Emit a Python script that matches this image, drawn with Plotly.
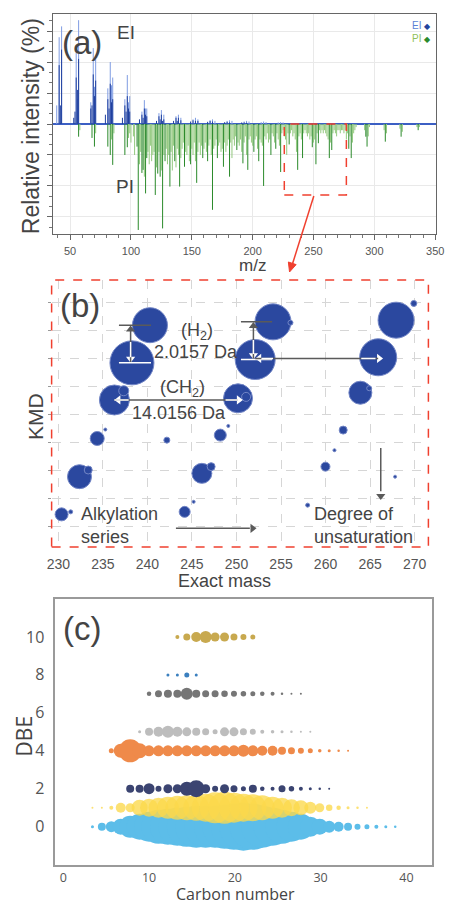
import plotly.graph_objects as go

W, H = 450, 905
FONT = "Liberation Sans, Arial, sans-serif"
FONT_C = "Open Sans, Lato, sans-serif"

def pxx(x):
    return x / W

def pxy(y):
    return 1 - y / H

# ---------------- (a) mass spectra ----------------
ei_light_mz = [39, 41, 43, 55, 56, 57, 67, 69, 70, 71, 81, 83, 84, 85, 95, 97, 98, 99,
               109, 111, 112, 113, 123, 125, 127, 137, 139, 141, 151, 153, 155, 165, 167,
               169, 179, 181, 183, 193, 195, 197, 207, 209, 211, 221, 223, 225]
ei_light_int = [0.6, 2.8, 3.15, 2.3, 0.8, 3.35, 0.7, 2.45, 1.2, 2.1, 1.15, 2.0, 1.25, 1.5,
                0.8, 1.58, 0.7, 0.9, 0.4, 0.77, 0.5, 0.5, 0.35, 0.45, 0.3, 0.25, 0.3, 0.2,
                0.15, 0.2, 0.15, 0.12, 0.15, 0.1, 0.1, 0.12, 0.1, 0.08, 0.1, 0.08, 0.06,
                0.08, 0.06, 0.05, 0.06, 0.05]
ei_dark_mz = [41, 42, 43, 53, 54, 55, 56, 57, 67, 68, 69, 70, 71, 79, 81, 82, 83, 84, 85,
              93, 95, 96, 97, 98, 99, 107, 109, 110, 111, 112, 113, 121, 123, 124, 125,
              126, 127, 135, 137, 138, 139, 141, 149, 151, 153, 155, 163, 165, 167, 177,
              179, 181, 191, 193, 195]
ei_dark_int = [1.9, 0.6, 2.4, 0.2, 0.4, 1.5, 1.1, 2.1, 0.5, 0.6, 1.6, 0.9, 1.4, 0.3, 0.8,
               0.5, 1.3, 0.7, 0.8, 0.2, 0.6, 0.4, 0.9, 0.5, 0.4, 0.15, 0.3, 0.2, 0.5, 0.3,
               0.25, 0.1, 0.25, 0.15, 0.3, 0.1, 0.15, 0.1, 0.2, 0.1, 0.2, 0.12, 0.08, 0.12,
               0.1, 0.1, 0.07, 0.1, 0.08, 0.06, 0.07, 0.05, 0.05, 0.05, 0.04]

pi_major_mz = [57, 68, 70, 81, 83, 85, 95, 97, 105, 106, 109, 110, 112, 113, 120, 122, 124,
               126, 128, 132, 136, 140, 144, 149, 154, 159, 163, 167, 171, 176, 181, 187,
               192, 196, 201, 205, 209, 215, 219, 223, 230, 237, 241, 249, 252, 254, 263,
               265, 279, 281, 293, 294, 309, 322, 336]
pi_major_int = [0.41, 0.45, 0.73, 0.73, 1.0, 1.32, 1.0, 0.75, 0.73, 3.42, 1.58, 1.48, 2.24,
                1.1, 2.29, 1.6, 1.7, 3.37, 1.2, 2.02, 1.2, 2.02, 1.38, 1.3, 1.9, 1.1, 1.2,
                2.77, 1.1, 1.38, 1.7, 0.84, 1.27, 1.48, 0.9, 1.2, 2.0, 1.0, 0.8, 1.55, 0.66,
                1.48, 1.1, 0.75, 1.3, 0.62, 1.1, 0.84, 0.8, 1.1, 0.41, 0.73, 0.57, 0.41, 0.2]
pi_minor_mz = [58, 71, 84, 86, 98, 99, 100, 102, 103, 107, 108, 111, 114, 115, 116, 117, 118,
               119, 121, 123, 125, 127, 129, 130, 131, 133, 134, 135, 137, 138, 139, 141,
               142, 143, 145, 146, 147, 148, 150, 151, 152, 153, 155, 156, 157, 158, 160,
               161, 162, 164, 165, 166, 168, 169, 170, 172, 173, 174, 175, 177, 178, 179,
               180, 182, 183, 184, 185, 186, 188, 189, 190, 191, 193, 194, 195, 197, 198,
               199, 200, 202, 203, 204, 206, 207, 208, 210, 211, 212, 213, 214, 216, 217,
               218, 220, 221, 222, 224, 225, 226, 227, 228, 229, 231, 232, 233, 234, 235,
               236, 238, 239, 240, 242, 243, 244, 245, 246, 247, 248, 250, 251, 253, 255,
               256, 257, 258, 259, 260, 261, 262, 264, 266, 267, 268, 269, 270, 271, 272,
               273, 274, 275, 276, 277, 278, 280, 282, 283, 284, 285, 292, 295, 296, 308,
               310, 321, 323, 335, 337]
pi_minor_int = [0.2, 0.3, 0.5, 0.3, 0.45, 0.3, 0.6, 0.4, 1.0, 1.3, 0.9, 1.7, 0.9, 1.3, 0.7,
                1.2, 1.0, 0.9, 1.4, 0.9, 1.5, 1.0, 0.8, 1.3, 1.0, 0.9, 1.5, 0.7, 1.4, 0.8,
                1.0, 1.1, 0.8, 0.6, 0.9, 1.0, 0.7, 1.2, 0.8, 1.0, 0.6, 1.2, 0.9, 0.6, 1.0,
                0.7, 0.8, 0.6, 0.9, 0.7, 0.5, 1.0, 0.8, 0.7, 0.5, 0.7, 0.6, 0.9, 0.8, 0.6,
                0.9, 0.7, 0.5, 0.6, 1.1, 0.5, 0.7, 0.4, 0.6, 0.7, 0.5, 0.9, 0.6, 0.4, 1.0,
                0.5, 0.4, 0.6, 0.7, 0.5, 0.4, 0.8, 0.5, 0.6, 0.7, 0.4, 0.5, 0.3, 0.6, 0.5,
                0.3, 0.4, 0.6, 0.3, 0.5, 0.7, 0.3, 0.2, 0.4, 0.5, 1.0, 0.3, 0.3, 0.2, 0.4,
                0.3, 0.5, 0.9, 0.4, 0.3, 0.5, 0.3, 0.2, 0.3, 0.4, 0.3, 0.5, 0.4, 0.6, 0.5,
                0.3, 0.2, 0.3, 0.2, 0.3, 0.2, 0.3, 0.4, 0.5, 0.6, 0.3, 0.2, 0.3, 0.4, 0.2,
                0.2, 0.3, 0.2, 0.2, 0.3, 0.2, 0.5, 0.3, 0.4, 0.6, 0.3, 0.2, 0.1, 0.2, 0.4,
                0.1, 0.2, 0.3, 0.15, 0.25, 0.1, 0.1]
zoom_box_mz = [226, 277]
zoom_box_depth = 2.29

# ---------------- (b) Kendrick mass defect ----------------
kmd_mass = [240.28, 238.26, 236.29, 234.36, 232.37, 230.36, 233.35, 235.27, 237.34, 231.38,
            242.18, 245.19, 244.18, 246.11, 247.15, 248.18, 249.08, 250.17, 251.08, 252.10,
            254.10, 256.06, 257.99, 259.99, 261.00, 261.98, 263.91, 264.90, 265.91, 267.92,
            269.91, 267.81]
kmd_val = [7.20, 5.85, 4.52, 3.14, 1.77, 0.42, 2.01, 3.46, 4.85, 0.51, 3.08, 0.87, 0.51,
           1.89, 2.13, 3.26, 3.59, 4.58, 4.63, 5.97, 7.32, 7.29, 0.75, 2.13, 2.72, 3.44,
           4.78, 4.94, 6.05, 7.38, 7.98, 1.77]
kmd_abund = [35, 44, 30, 14, 24, 13, 8, 3, 10, 4, 6, 3, 11, 20, 8, 12, 3, 29, 9, 40, 36, 5,
             4, 9, 3, 8, 23, 5, 37, 36, 6, 3]
b_ticks = [230, 235, 240, 245, 250, 255, 260, 265, 270]

# ---------------- (c) DBE vs carbon number ----------------
carbon = [3.4, 4.5, 5.6, 6.7, 7.8, 8.9, 10.0, 11.1, 12.2, 13.3, 14.4, 15.5, 16.6, 17.7,
          18.8, 19.9, 21.0, 22.1, 23.2, 24.4, 25.5, 26.6, 27.7, 28.8, 29.9, 31.0, 32.1,
          33.2, 34.3, 35.4, 36.5, 37.6, 38.7]
dbe0_abund = [3, 8, 11, 16, 22, 26, 30, 34, 36, 38, 40, 42, 42, 42, 44, 46, 48, 46, 42, 38,
              34, 30, 26, 20, 16, 12, 10, 8, 6, 5, 4, 3, 2.5]
dbe1_abund = [2, 2, 4, 10, 9, 16, 18, 20, 22, 24, 25, 26, 28, 31, 32, 30, 28, 27, 25, 22,
              20, 17, 15, 12, 9, 6.5, 4.5, 3, 2.5, 2]
dbe2_abund = [8, 8, 11, 6, 9, 9, 14, 17, 9, 6, 9, 7, 5, 8, 4.5, 4, 7, 5.5, 4, 3, 2.5, 2]
dbe4_abund = [5, 14, 23, 15, 11, 11, 11, 11, 11, 11, 11, 11, 11, 11, 12, 11, 10, 10, 8, 7,
              6, 5, 3.5, 3, 2.5, 2]
dbe5_abund = [3, 8, 10, 12, 10, 9, 8, 7, 5, 9, 9, 7, 6, 4, 3.5, 3, 2.5, 2, 2]
dbe7_abund = [4.5, 7, 8, 8, 12, 8, 7, 7, 6.5, 6, 5.5, 5, 4.5, 4, 2.5, 2, 2]
dbe8_abund = [3, 3, 5, 3]
dbe10_abund = [4, 7, 10, 12, 9, 9, 7, 6, 5]
dbe_rows = [0, 1, 2, 4, 5, 7, 8, 10]
row_start = [0, 0, 4, 2, 5, 6, 8, 9]
row_colors = ["#5cbde9", "#fbd84c", "#3b4471", "#ef8a4a", "#bdbdbd", "#767676",
              "#3b80bf", "#c8a94f"]
row_opacity = [1, 0.78, 1, 1, 1, 1, 1, 1]
row_abund = [dbe0_abund, dbe1_abund, dbe2_abund, dbe4_abund, dbe5_abund, dbe7_abund,
             dbe8_abund, dbe10_abund]

fig = go.Figure()


def sticks(mz, inten, sign=1):
    xs, ys = [], []
    for m, v in zip(mz, inten):
        xs += [m, m, None]
        ys += [0, sign * v, None]
    return xs, ys


for mz, it, sgn, col in [(pi_minor_mz, pi_minor_int, -1, "#93c97f"),
                         (pi_major_mz, pi_major_int, -1, "#2b8a2b"),
                         (ei_light_mz, ei_light_int, 1, "#7f9ce2"),
                         (ei_dark_mz, ei_dark_int, 1, "#1f3f9e")]:
    xs, ys = sticks(mz, it, sgn)
    fig.add_trace(go.Scatter(x=xs, y=ys, mode="lines", line=dict(color=col, width=1),
                             xaxis="x", yaxis="y", showlegend=False, hoverinfo="skip"))

# (b) bubbles, largest first
order = sorted(range(len(kmd_mass)), key=lambda i: -kmd_abund[i])
fig.add_trace(go.Scatter(
    x=[kmd_mass[i] for i in order], y=[kmd_val[i] for i in order], mode="markers",
    marker=dict(size=[kmd_abund[i] for i in order], sizemode="diameter", color="#2b489f",
                line=dict(color="#7386c6", width=1), opacity=1),
    xaxis="x2", yaxis="y2", showlegend=False))

# (c) bubble rows
for dbe, st, ab, col, op in zip(dbe_rows, row_start, row_abund, row_colors, row_opacity):
    fig.add_trace(go.Scatter(
        x=carbon[st:st + len(ab)], y=[dbe] * len(ab), mode="markers",
        marker=dict(size=ab, sizemode="diameter", color=col, opacity=op, line=dict(width=0)),
        xaxis="x3", yaxis="y3", showlegend=False))

# ---- arrows in (b): shafts as shapes, heads as triangle markers ----
GRAY = "#5a5a5a"
RED = "#f0402f"
b1, b2, b3, b12, b14, b15, b23 = 0, 1, 2, 17, 19, 20, 28
xl = kmd_mass[b2] - 0.15          # left H2 arrow x
xr = kmd_mass[b14] - 0.2          # right H2 arrow x
ylong = kmd_val[b14] + 0.04       # long DBE arrow y
ych = kmd_val[b3]                 # CH2 arrow y

heads = [  # x, y, symbol, colour
    (kmd_mass[b3] + 0.45, ych, "triangle-left", "white"),
    (kmd_mass[b12] + 0.1, ych, "triangle-right", "white"),
    (xl, kmd_val[b1] - 0.15, "triangle-up", GRAY),
    (xl, kmd_val[b2] + 0.15, "triangle-down", "white"),
    (xr, kmd_val[b15] - 0.15, "triangle-up", GRAY),
    (xr, kmd_val[b14] + 0.15, "triangle-down", "white"),
    (kmd_mass[b23] + 0.1, ylong, "triangle-right", "white"),
    (kmd_mass[b14] + 0.45, ylong, "triangle-left", "white"),
    (251.8, -0.08, "triangle-right", GRAY),
    (266.2, 1.08, "triangle-down", GRAY),
]
fig.add_trace(go.Scatter(
    x=[h[0] for h in heads], y=[h[1] for h in heads], mode="markers",
    marker=dict(symbol=[h[2] for h in heads], color=[h[3] for h in heads], size=8,
                line=dict(width=0)),
    xaxis="x2", yaxis="y2", showlegend=False, hoverinfo="skip", cliponaxis=False))

grid_a = "#e9e9e9"
fig.update_layout(
    width=W, height=H, autosize=False, margin=dict(l=0, r=0, t=0, b=0),
    paper_bgcolor="white", plot_bgcolor="white",
    font=dict(family=FONT, color="#444"),
    xaxis=dict(domain=[pxx(49), pxx(444)], range=[35.6, 350.8], anchor="y",
               tickvals=[50, 100, 150, 200, 250, 300, 350], showgrid=True, gridcolor=grid_a,
               ticks="outside", ticklen=5, tickcolor="#666", tickfont=dict(size=11, color="#555"),
               ticklabelstandoff=2, ticklabeloverflow="allow",
               minor=dict(dtick=10, ticks="outside", ticklen=3, tickcolor="#777", showgrid=False),
               showline=True, linecolor="#666", linewidth=1, mirror=True, zeroline=False),
    yaxis=dict(domain=[pxy(234), pxy(14)], range=[-3.55, 3.55], anchor="x",
               dtick=1, tick0=0, showgrid=True, gridcolor=grid_a, showticklabels=False,
               ticks="outside", ticklen=5, tickcolor="#666",
               minor=dict(dtick=1 / 3, ticks="outside", ticklen=3, tickcolor="#777", showgrid=False),
               showline=True, linecolor="#666", linewidth=1, mirror=True,
               zeroline=True, zerolinecolor="#3c5fc4", zerolinewidth=1.5),
    xaxis2=dict(domain=[pxx(48), pxx(436)], range=[229.24, 271.55], anchor="y2",
                tickvals=b_ticks, showgrid=True, gridcolor="#d6d6d6", griddash="dash",
                ticks="outside", ticklen=4, tickcolor="rgba(0,0,0,0)", ticklabeloverflow="allow",
                tickfont=dict(size=14, color="#555"), showline=False, zeroline=False),
    yaxis2=dict(domain=[pxy(547), pxy(280)], range=[-0.75, 8.82], anchor="x2",
                dtick=1, tick0=0, showgrid=True, gridcolor="#d6d6d6", griddash="dash",
                showticklabels=False, ticks="outside", ticklen=3, tickcolor="#999",
                showline=False, zeroline=False),
    xaxis3=dict(domain=[pxx(52), pxx(440)], range=[-0.906, 43.02], anchor="y3",
                tickvals=[0, 10, 20, 30, 40], showgrid=False, zeroline=False,
                ticks="", ticklabeloverflow="allow",
                tickfont=dict(size=12.5, color="#555", family=FONT_C),
                showline=True, linecolor="#9a9a9a", linewidth=2, mirror=True),
    yaxis3=dict(domain=[pxy(865), pxy(599)], range=[-2.02, 12.0], anchor="x3",
                tickvals=[0, 2, 4, 6, 8, 10], showgrid=False, zeroline=False,
                ticks="outside", ticklen=6, tickcolor="rgba(0,0,0,0)",
                tickfont=dict(size=16, color="#555", family=FONT_C),
                showline=True, linecolor="#9a9a9a", linewidth=2, mirror=True),
)

shapes = []


def seg(x0, y0, x1, y1, color, width=1.5):
    shapes.append(dict(type="line", xref="x2", yref="y2", x0=x0, y0=y0, x1=x1, y1=y1,
                       line=dict(color=color, width=width)))


# zoom box in (a)
shapes.append(dict(type="rect", xref="x", yref="y", x0=zoom_box_mz[0], x1=zoom_box_mz[1],
                   y0=-zoom_box_depth, y1=0, line=dict(color=RED, width=1.5, dash="dash")))
# red frame around (b)
shapes.append(dict(type="rect", xref="paper", yref="paper", x0=pxx(48), x1=pxx(436),
                   y0=pxy(547), y1=pxy(280), line=dict(color=RED, width=1.5, dash="dash")))
# red connector: shaft + head (paper coordinates)
shapes.append(dict(type="line", xref="paper", yref="paper", x0=pxx(318), y0=pxy(196),
                   x1=pxx(296), y1=pxy(264), line=dict(color=RED, width=1.5)))
head_pts = [(293, 272), (299.8, 264.6), (291.8, 262.0)]
head_path = "M " + " L ".join(f"{pxx(a):.5f},{pxy(b):.5f}" for a, b in head_pts) + " Z"
shapes.append(dict(type="path", xref="paper", yref="paper", path=head_path,
                   fillcolor=RED, line=dict(color=RED, width=1)))

# CH2
seg(kmd_mass[b3], ych, kmd_mass[b12], ych, GRAY)
seg(kmd_mass[b3], ych, kmd_mass[b3] + 1.6, ych, "white")
seg(kmd_mass[b12] - 1.4, ych, kmd_mass[b12], ych, "white")
# H2 left
seg(xl, kmd_val[b2], xl, kmd_val[b1] - 0.2, GRAY)
seg(xl, kmd_val[b2] + 0.2, xl, kmd_val[b2] + 0.75, "white")
seg(236.8, kmd_val[b1], 240.4, kmd_val[b1], GRAY)
seg(236.8, kmd_val[b2], 240.4, kmd_val[b2], "white")
# H2 right
seg(xr, kmd_val[b14], xr, kmd_val[b15] - 0.2, GRAY)
seg(xr, kmd_val[b14] + 0.2, xr, kmd_val[b14] + 0.7, "white")
seg(250.5, kmd_val[b15], 254.0, kmd_val[b15], GRAY)
seg(250.5, kmd_val[b14], 254.0, kmd_val[b14], "white")
# long DBE arrow
seg(kmd_mass[b14], ylong, kmd_mass[b23], ylong, GRAY)
seg(kmd_mass[b14] + 0.7, ylong, kmd_mass[b14] + 2.0, ylong, "white")
seg(kmd_mass[b23] - 1.9, ylong, kmd_mass[b23] - 0.3, ylong, "white")
# Alkylation / unsaturation arrows
seg(243.2, -0.08, 251.5, -0.08, GRAY)
seg(266.2, 2.8, 266.2, 1.25, GRAY)
fig.update_layout(shapes=shapes)

ann = []


def label(text, x, y, size, color="#444", xanchor="center", yanchor="middle", angle=0,
          family=FONT, align="center"):
    ann.append(dict(text=text, x=pxx(x), y=pxy(y), xref="paper", yref="paper",
                    showarrow=False, font=dict(size=size, color=color, family=family),
                    xanchor=xanchor, yanchor=yanchor, textangle=angle, align=align,
                    borderpad=0))


# panel (a) texts
label("(a)", 79, 43, 33)
label("EI", 125, 33, 19)
label("PI", 124, 187, 19)
label("Relative intensity (%)", 27, 126, 23, angle=-90)
label("m/z", 255, 265, 17)
label("<span style='color:#5b7fd6'>EI</span> <span style='color:#23439c;font-size:8px'>◆</span>",
      440, 25, 10, xanchor="right")
label("<span style='color:#8fbf5a'>PI</span> <span style='color:#2b8a2b;font-size:8px'>◆</span>",
      440, 39, 10, xanchor="right")

# panel (b) texts
label("(b)", 77, 306, 33)
label("(H<sub>2</sub>)", 198, 331, 18)
label("2.0157 Da", 197, 352, 18)
label("(CH<sub>2</sub>)", 183, 388, 18)
label("14.0156 Da", 179, 413, 18)
label("Alkylation<br>series", 77, 525, 18, xanchor="left", align="left")
label("Degree of<br>unsaturation", 317, 525, 18, xanchor="left", align="left")
label("KMD", 31, 417, 21, angle=-90)
label("Exact mass", 226, 581, 18)

# panel (c) texts
label("(c)", 79, 628, 33)
label("DBE", 20, 736, 21, angle=-90, family=FONT_C)
label("Carbon number", 237, 894, 16, family=FONT_C)

fig.update_layout(annotations=ann)

fig.write_html(
    "out.html",
    config={"displayModeBar": False},
    post_script="document.body.style.margin='0';document.body.style.overflow='hidden';"
                "document.documentElement.style.overflow='hidden';",
)
